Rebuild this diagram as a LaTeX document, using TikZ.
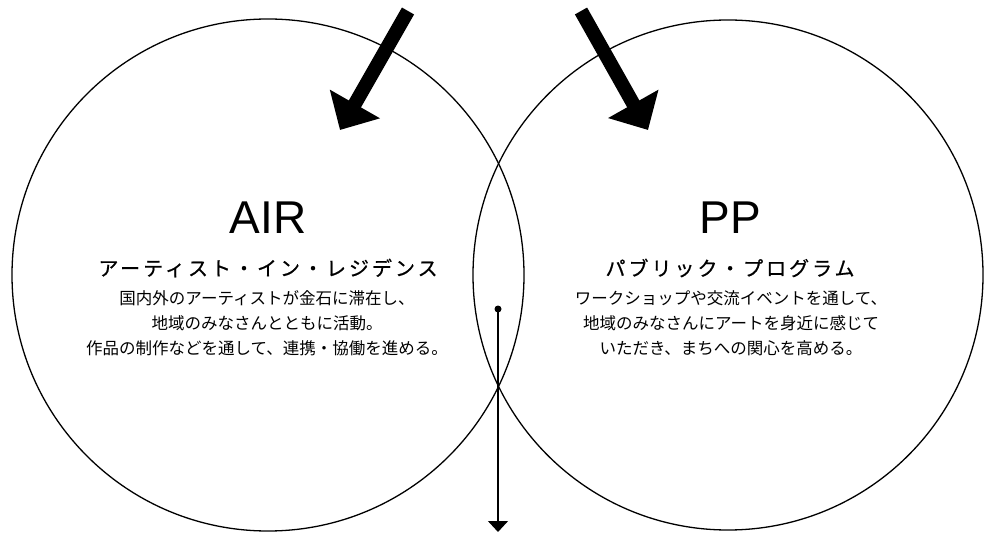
\documentclass[tikz,border=0pt]{standalone}
\usepackage{fontspec}
\usetikzlibrary{arrows.meta}
\newfontfamily\jp{Noto Sans CJK JP}
\newfontfamily\latin{Liberation Sans}
\newfontfamily\jpsub[LetterSpace=15,FakeBold=0.7]{Noto Sans CJK JP}
\tikzset{
  ring/.style={draw, line width=1.3pt},
  bigarrow/.style={line width=14pt, -{Triangle[length=30pt,width=56pt]}},
  thinarrow/.style={line width=1.4pt, -{Triangle[length=11pt,width=20pt]}},
  titletext/.style={font=\latin\fontsize{46}{50}\selectfont, inner sep=0pt},
  subtext/.style={font=\jpsub\fontsize{20}{22}\selectfont, inner sep=0pt},
  bodytext/.style={font=\jp\fontsize{16.5}{25}\selectfont, align=center, inner sep=0pt},
}
\begin{document}
\begin{tikzpicture}[x=1pt,y=-1pt]
\useasboundingbox (0,0) rectangle (984,534);
\draw[ring] (268,275) circle (256);
\draw[ring] (728,275) circle (255);
\coordinate (a1s) at (408,11);
\coordinate (a1e) at (340,130);
\coordinate (a2s) at (581,11);
\coordinate (a2e) at (648,130);
\draw[bigarrow] (a1s) -- (a1e);
\draw[bigarrow] (a2s) -- (a2e);
\node[circle, fill, inner sep=0pt, minimum size=7pt] (dot) at (498,309) {};
\coordinate (down) at (498,532);
\draw[thinarrow] (dot.center) -- (down);
\node[titletext] (air) at (268,218) {AIR};
\node[subtext] (airsub) at (268,268) {アーティスト・イン・レジデンス};
\node[bodytext] (airbody) at (267,323) {国内外のアーティストが金石に滞在し、\\地域のみなさんとともに活動。\\作品の制作などを通して、連携・協働を進める。};
\node[titletext] (pp) at (730,218) {PP};
\node[subtext] (ppsub) at (730,268) {パブリック・プログラム};
\node[bodytext] (ppbody) at (731,323) {ワークショップや交流イベントを通して、\\地域のみなさんにアートを身近に感じて\\いただき、まちへの関心を高める。};
\end{tikzpicture}
\end{document}
